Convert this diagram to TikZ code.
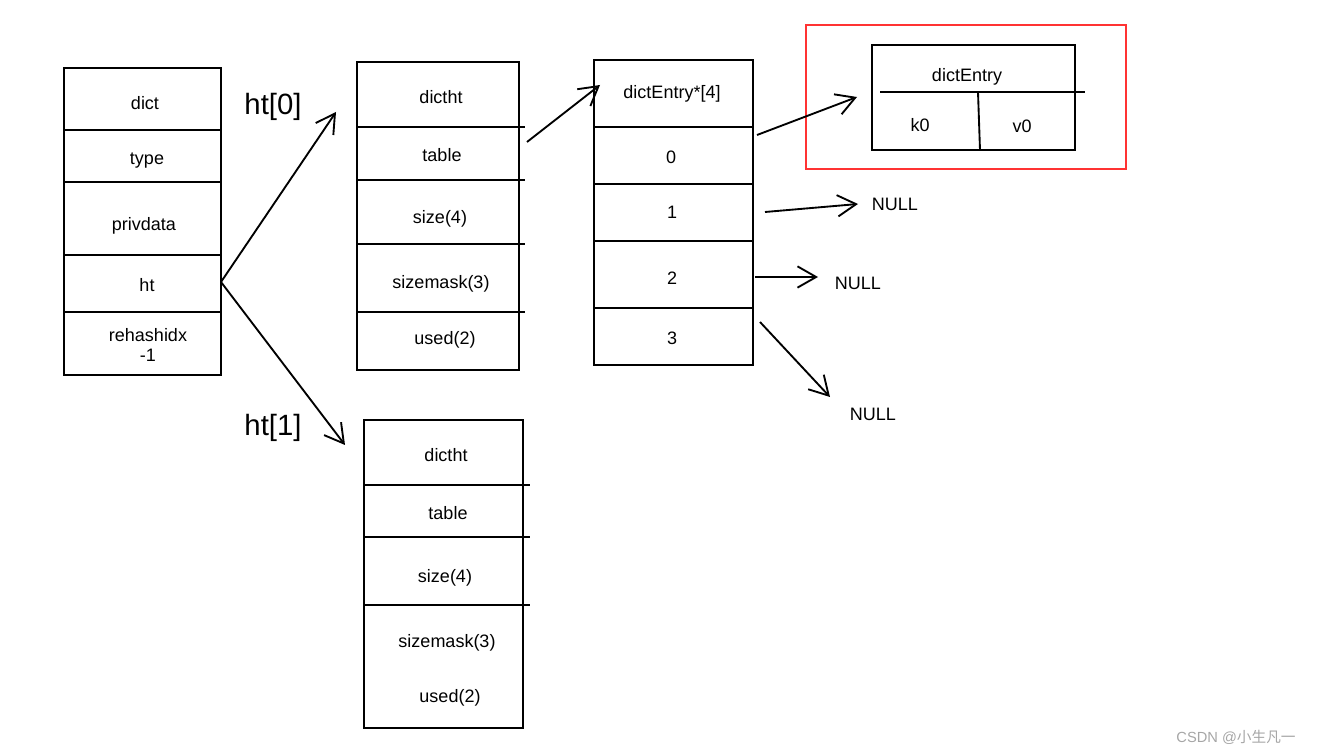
\documentclass[tikz,border=0pt]{standalone}
\usepackage{fontspec}
\setmainfont{Liberation Sans}
\newfontfamily\cjk{Noto Sans CJK SC}
\usetikzlibrary{arrows.meta}
\begin{document}
\begin{tikzpicture}[x=0.75pt,y=-0.75pt,line width=1.4pt,
  txt/.style={font=\fontsize{13.5}{15}\selectfont,align=center,inner sep=0pt},
  big/.style={font=\fontsize{22}{24}\selectfont,inner sep=0pt},
  arr/.style={-{Straight Barb[length=14pt,width=16pt,line width=1.4pt]}}]
\useasboundingbox (0,0) rectangle (1318,755);
% dict
\draw (64,68) rectangle (221,375);
\foreach \y in {130,182,255,312} \draw (64,\y) -- (221,\y);
\node[txt] (dict) at (145,103) {dict};
\node[txt] (type) at (147,161) {type};
\node[txt] (priv) at (144,226) {privdata};
\node[txt] (ht) at (147,285) {ht};
\node[txt] (reh) at (148,345) {rehashidx\\-1};
% ht0
\draw (357,62) rectangle (519,370);
\foreach \y in {127,180,244,312} \draw (357,\y) -- (525,\y);
\node[txt] (a1) at (441,97) {dictht};
\node[txt] (a2) at (442,155) {table};
\node[txt] (a3) at (440,219) {size(4)};
\node[txt] (a4) at (441,284) {sizemask(3)};
\node[txt] (a5) at (445,340) {used(2)};
% ht1
\draw (364,420) rectangle (523,728);
\foreach \y in {485,537,605} \draw (364,\y) -- (530,\y);
\node[txt] (b1) at (446,455) {dictht};
\node[txt] (b2) at (448,513) {table};
\node[txt] (b3) at (445,578) {size(4)};
\node[txt] (b4) at (447,643) {sizemask(3)};
\node[txt] (b5) at (450,698) {used(2)};
% array
\draw (594,60) rectangle (753,365);
\foreach \y in {127,184,241,308} \draw (594,\y) -- (753,\y);
\node[txt] (e) at (672,94) {dictEntry*[4]};
\node[txt] (e0) at (671,157) {0};
\node[txt] (e1) at (672,212) {1};
\node[txt] (e2) at (672,278) {2};
\node[txt] (e3) at (672,338) {3};
% entry
\draw[red!80!white,line width=1.6pt] (806,25) rectangle (1126,169);
\draw (872,45) rectangle (1075,150);
\draw (880,92) -- (1085,92);
\draw (978,92) -- (980,150);
\node[txt] (de) at (967,77) {dictEntry};
\node[txt] (k0) at (920,125) {k0};
\node[txt] (v0) at (1022,126) {v0};
% NULL
\node[txt] (n1) at (895,204) {NULL};
\node[txt] (n2) at (858,283) {NULL};
\node[txt] (n3) at (873,414) {NULL};
\node[big] (l0) at (273,107) {ht[0]};
\node[big] (l1) at (273,428) {ht[1]};
% arrows
\coordinate (s0) at (221,282);
\coordinate (t0) at (336,112);
\coordinate (t1) at (345,445);
\coordinate (s2) at (527,142); \coordinate (t2) at (600,85);
\coordinate (s3) at (757,135); \coordinate (t3) at (857,97);
\coordinate (s4) at (765,212); \coordinate (t4) at (858,204);
\coordinate (s5) at (755,277); \coordinate (t5) at (818,277);
\coordinate (s6) at (760,322); \coordinate (t6) at (830,397);
\draw[arr] (s0) -- (t0);
\draw[arr] (s0) -- (t1);
\draw[arr] (s2) -- (t2);
\draw[arr] (s3) -- (t3);
\draw[arr] (s4) -- (t4);
\draw[arr] (s5) -- (t5);
\draw[arr] (s6) -- (t6);
\node[font=\fontsize{11}{12}\selectfont,text=black!35,inner sep=0pt] (wm) at (1236,737) {CSDN @{\cjk 小生凡一}};
\end{tikzpicture}
\end{document}
